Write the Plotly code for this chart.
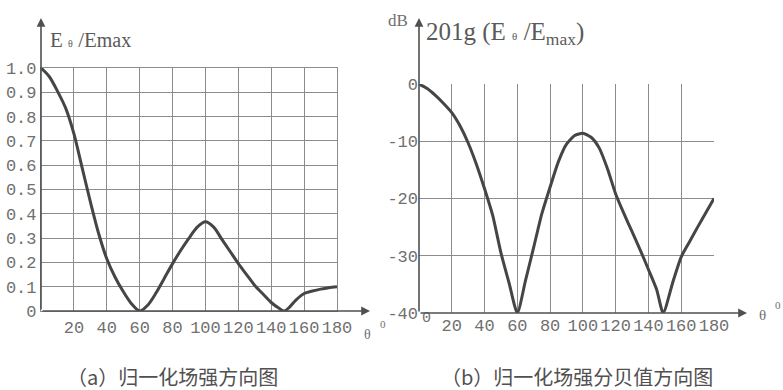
import plotly.graph_objects as go

W, H = 783, 390

# ---------------- data ----------------
theta_a = [0, 5, 10, 15, 20, 25, 30, 35, 40, 45, 50, 55, 60, 65, 70, 75, 80, 85, 90,
           95, 100, 105, 110, 115, 120, 125, 130, 135, 140, 145, 148, 151, 155, 160,
           165, 170, 175, 180]
e_norm = [1.0, 0.965, 0.905, 0.835, 0.73, 0.59, 0.45, 0.32, 0.215, 0.14, 0.08, 0.03,
          0.0, 0.025, 0.075, 0.135, 0.195, 0.25, 0.30, 0.345, 0.367, 0.345, 0.295,
          0.245, 0.195, 0.15, 0.105, 0.07, 0.035, 0.01, 0.0, 0.015, 0.045, 0.072,
          0.082, 0.09, 0.096, 0.10]

theta_b = [0, 5, 10, 15, 20, 25, 30, 35, 40, 45, 50, 55, 60, 65, 70, 75, 80, 85, 90,
           95, 100, 105, 110, 115, 120, 125, 130, 135, 140, 145, 149, 155, 160, 165,
           170, 175, 180]
e_db = [0, -0.8, -2.0, -3.4, -5.0, -7.3, -10.3, -14.0, -18.3, -23.0, -29.5, -34.8,
        -40.0, -34.3, -28.5, -22.6, -18.0, -13.6, -10.5, -9.0, -8.6, -9.3, -11.2,
        -14.8, -19.2, -22.6, -25.8, -29.0, -32.4, -35.9, -40.0, -34.5, -30.2, -27.6,
        -25.0, -22.5, -20.0]

xa_ticks = [20, 40, 60, 80, 100, 120, 140, 160, 180]
xa_text = ["20", "40", "60", "80", "100", "120", "140", "160", "180"]
ya_ticks = [0, 0.1, 0.2, 0.3, 0.4, 0.5, 0.6, 0.7, 0.8, 0.9, 1.0]
ya_text = ["0", "0.1", "0.2", "0.3", "0.4", "0.5", "0.6", "0.7", "0.8", "0.9", "1.0"]
xb_origin_text = "0"
xb_ticks = [20, 40, 60, 80, 100, 120, 140, 160, 180]
xb_text = ["20", "40", "60", "80", "100", "120", "140", "160", "180"]
yb_ticks = [0, -10, -20, -30, -40]
yb_text = ["0", "-10", "-20", "-30", "-40"]

caption_a = "（a）归一化场强方向图"
caption_b = "（b）归一化场强分贝值方向图"

# ---------------- style ----------------
GRID = "#8c8c8c"
AXIS = "#505050"
CURVE = "#454545"
TXT = "#707070"
TICKFONT = dict(family="Liberation Mono, monospace", size=17, color=TXT)


def px(x):
    return x / W


def py(y):
    return 1 - y / H


fig = go.Figure()
fig.add_trace(go.Scatter(x=theta_a, y=e_norm, mode="lines", xaxis="x", yaxis="y",
                         line=dict(color=CURVE, width=3, shape="spline", smoothing=0.8),
                         showlegend=False, hoverinfo="skip"))
fig.add_trace(go.Scatter(x=theta_b, y=e_db, mode="lines", xaxis="x2", yaxis="y2",
                         line=dict(color=CURVE, width=3, shape="spline", smoothing=0.6),
                         showlegend=False, hoverinfo="skip"))

common = dict(showgrid=True, gridcolor=GRID, gridwidth=1.2, zeroline=False,
              ticks="", tickfont=TICKFONT, fixedrange=True, automargin=False)

fig.update_layout(
    width=W, height=H, autosize=False,
    margin=dict(l=0, r=0, t=0, b=0, pad=0, autoexpand=False),
    paper_bgcolor="white", plot_bgcolor="white",
    xaxis=dict(domain=[px(41), px(337)], range=[0, 180], tickmode="array",
               tickvals=xa_ticks, ticktext=xa_text, anchor="y",
               showline=True, mirror=True, linecolor=GRID, linewidth=1.2, **common),
    yaxis=dict(domain=[py(311), py(68)], range=[0, 1], tickmode="array",
               tickvals=ya_ticks, ticktext=ya_text, anchor="x",
               showline=True, mirror=True, linecolor=GRID, linewidth=1.2, **common),
    xaxis2=dict(domain=[px(419), px(714)], range=[0, 180], tickmode="array",
                tickvals=xb_ticks, ticktext=xb_text, anchor="y2",
                showline=False, **common),
    yaxis2=dict(domain=[py(313), py(84)], range=[-40, 0], tickmode="array",
                tickvals=yb_ticks, ticktext=yb_text, anchor="x2",
                showline=False, **common),
)

# origin label of the right chart's θ axis (raised, just right of the axis)
fig.add_annotation(xref="x2", yref="paper", x=0, y=py(318), text=xb_origin_text,
                   showarrow=False, xanchor="left", yanchor="middle", xshift=1,
                   font=dict(family="Liberation Mono, monospace", size=15, color=TXT))


def arrow(x0, y0, x1, y1):
    fig.add_annotation(xref="paper", yref="paper", axref="pixel", ayref="pixel",
                       x=px(x1), y=py(y1), ax=x0 - x1, ay=y0 - y1, text="",
                       showarrow=True, arrowhead=2, arrowsize=1.1, arrowwidth=1.6,
                       arrowcolor=AXIS)


# axis lines with arrows
arrow(41, 311, 41, 18)
arrow(41, 311, 370, 311)
arrow(419, 313, 419, 18)
arrow(419, 313, 747, 313)


def label(x, y, text, size, anchor="left", color=TXT, family="Liberation Serif, serif"):
    fig.add_annotation(xref="paper", yref="paper", x=px(x), y=py(y), text=text,
                       showarrow=False, xanchor=anchor, yanchor="middle",
                       font=dict(family=family, size=size, color=color))


label(48, 40, "E <span style='font-size:10px'>θ</span> /E<span style='font-size:20px'>max</span>",
      21, color="#5a5a5a")
label(386, 20, "dB", 17)
label(424, 33, "201g (E <span style='font-size:11px'>θ</span> /E<sub>max</sub>)",
      25, color="#5a5a5a")
label(362, 334, "θ", 14)
label(378, 324, "0", 11)
label(757, 315, "θ", 15)
label(773, 305, "0", 11)
label(172, 376, caption_a, 20, anchor="center", color="#505050",
      family="Noto Sans CJK SC, sans-serif")
label(577, 376, caption_b, 20, anchor="center", color="#505050",
      family="Noto Sans CJK SC, sans-serif")

fig.write_html("out.html", config={"displayModeBar": False},
               post_script="document.body.style.margin='0px';document.body.style.overflow='hidden';")
